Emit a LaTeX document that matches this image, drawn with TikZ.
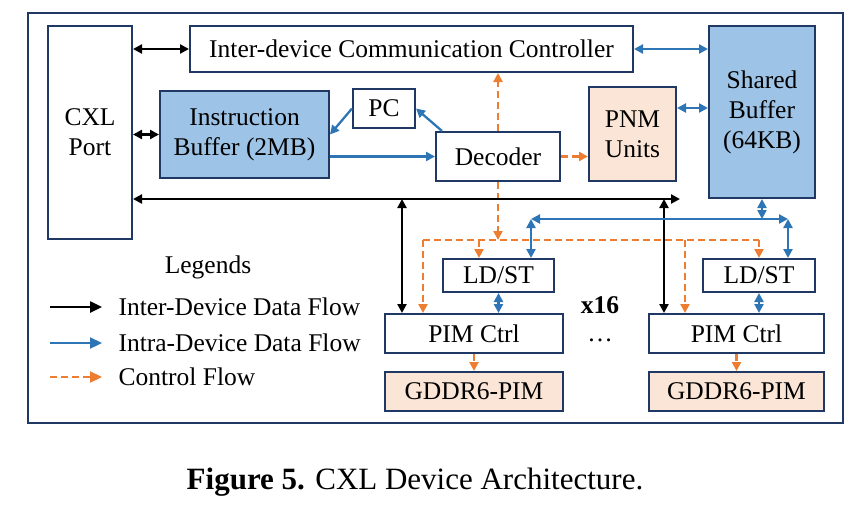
\documentclass[tikz,border=0pt]{standalone}
\usepackage{fontspec}
\setmainfont{Liberation Serif}
\usetikzlibrary{arrows.meta}
\definecolor{navy}{HTML}{203864}
\definecolor{flowblue}{HTML}{2E75B6}
\definecolor{ctrlorange}{HTML}{ED7D31}
\definecolor{bufblue}{HTML}{9DC3E6}
\definecolor{peach}{HTML}{FBE5D6}
\begin{document}
\begin{tikzpicture}[x=1pt,y=-1pt,>={Triangle[length=9pt,width=9pt]},
		font=\fontsize{25.5}{30}\selectfont,
		box/.style={draw=navy,line width=2pt,inner sep=0pt,align=center},
		ext/.style={line width=2.5pt,black},
		intra/.style={line width=2.3pt,flowblue},
		ctrl/.style={line width=2.3pt,ctrlorange,dash pattern=on 7pt off 4pt},
		legtip/.style={-{Triangle[length=12pt,width=11pt]}}]
				\useasboundingbox (0,0) rectangle (859,512);
				\draw[navy,line width=2pt] (28,13) rectangle (843,423);
				\node[box,minimum width=84pt,minimum height=213pt] (cxl) at (90,132.5) {CXL\\Port};
				\node[box,minimum width=443pt,minimum height=46pt] (icc) at (411.5,49) {Inter-device Communication Controller};
				\node[box,fill=bufblue,minimum width=169pt,minimum height=87pt] (ib) at (244.5,134.5) {Instruction\\Buffer (2MB)};
				\node[box,minimum width=62pt,minimum height=39pt] (pc) at (384,108.5) {PC};
				\node[box,minimum width=124pt,minimum height=49pt] (dec) at (498,156.5) {Decoder};
				\node[box,fill=peach,minimum width=87pt,minimum height=94pt] (pnm) at (632.5,134) {PNM\\Units};
				\node[box,fill=bufblue,minimum width=106pt,minimum height=172pt] (sb) at (762,112) {Shared\\Buffer\\(64KB)};
				\node[box,minimum width=111pt,minimum height=33pt] (ldl) at (498.5,275.5) {LD/ST};
				\node[box,minimum width=112pt,minimum height=33pt] (ldr) at (759,275.5) {LD/ST};
				\node[box,minimum width=178pt,minimum height=39pt] (pcl) at (474,333.5) {PIM Ctrl};
				\node[box,minimum width=175pt,minimum height=39pt] (pcr) at (736.5,333.5) {PIM Ctrl};
				\node[box,fill=peach,minimum width=178pt,minimum height=39pt] (gdl) at (474,391.5) {GDDR6-PIM};
				\node[box,fill=peach,minimum width=175pt,minimum height=39pt] (gdr) at (736.5,391.5) {GDDR6-PIM};
				\node[font=\fontsize{25.5}{30}\bfseries] (rep) at (600,305) {x16};
				\node[anchor=base] (dots) at (600,341) {\ldots};
				\draw[ext,<->] (cxl.east |- icc.west) -- (icc.west);
				\draw[ext,<->] (cxl.east |- ib.west) -- (ib.west);
				\draw[intra,<->] (icc.east) -- (sb.west |- icc.east);
				\draw[intra,<->] (pnm.east |- 0,108) -- (sb.west |- 0,108);
				\draw[intra,->] (pc.west) -- (ib.east);
				\draw[intra,->] ([xshift=7pt]dec.north west) -- (pc.east);
				\draw[intra,->] (ib.east |- dec.west) -- (dec.west);
				\draw[ctrl,->] (dec.east) -- (dec.east -| pnm.west);
				\draw[ctrl,->] (dec.north) -- (dec.north |- icc.south);
				\coordinate (cbl) at (423,240);
				\coordinate (cbm) at (479,240);
				\coordinate (cbn) at (685,240);
				\coordinate (cbr) at (759,240);
				\draw[ctrl,->] (dec.south) -- (dec.south |- cbl);
				\draw[ctrl] (cbl) -- (cbr);
				\draw[ctrl,->] (cbl) -- (cbl |- pcl.north);
				\draw[ctrl,->] (cbm) -- (cbm |- ldl.north);
				\draw[ctrl,->] (cbn) -- (cbn |- pcr.north);
				\draw[ctrl,->] (cbr) -- (ldr.north);
				\draw[ctrl,->] (pcl.south) -- (gdl.north);
				\draw[ctrl,->] (pcr.south) -- (gdr.north);
				\coordinate (ebl) at (402,199);
				\coordinate (ebr) at (664,199);
				\draw[ext,<->] (cxl.east |- ebl) -- (680,199);
				\draw[ext,<->] (ebl) -- (ebl |- pcl.north);
				\draw[ext,<->] (ebr) -- (ebr |- pcr.north);
				\coordinate (dbl) at (531,219);
				\coordinate (dbm) at (762,219);
				\coordinate (dbr) at (788,219);
				\draw[intra,<->] (dbl) -- (dbr);
				\draw[intra,<->] (dbm |- sb.south) -- (dbm);
				\draw[intra,<->] (dbl) -- (dbl |- ldl.north);
				\draw[intra,<->] (dbr) -- (dbr |- ldr.north);
				\draw[intra,<->] (ldl.south) -- (ldl.south |- pcl.north);
				\draw[intra,<->] (ldr.south) -- (ldr.south |- pcr.north);
				\node (leg) at (208,267) {Legends};
				\draw[ext,legtip] (50,307) -- (102,307);
				\node[anchor=west] (legext) at (115,307) {Inter-Device Data Flow};
				\draw[intra,legtip] (50,343) -- (102,343);
				\node[anchor=west] (legintra) at (115,343) {Intra-Device Data Flow};
				\draw[ctrl,legtip] (50,377) -- (102,377);
				\node[anchor=west] (legctrl) at (115,377) {Control Flow};
				\node[font=\fontsize{31}{35}\selectfont] (cap) at (415,482) {\textbf{Figure 5.} CXL Device Architecture.};
			\end{tikzpicture}
\end{document}
